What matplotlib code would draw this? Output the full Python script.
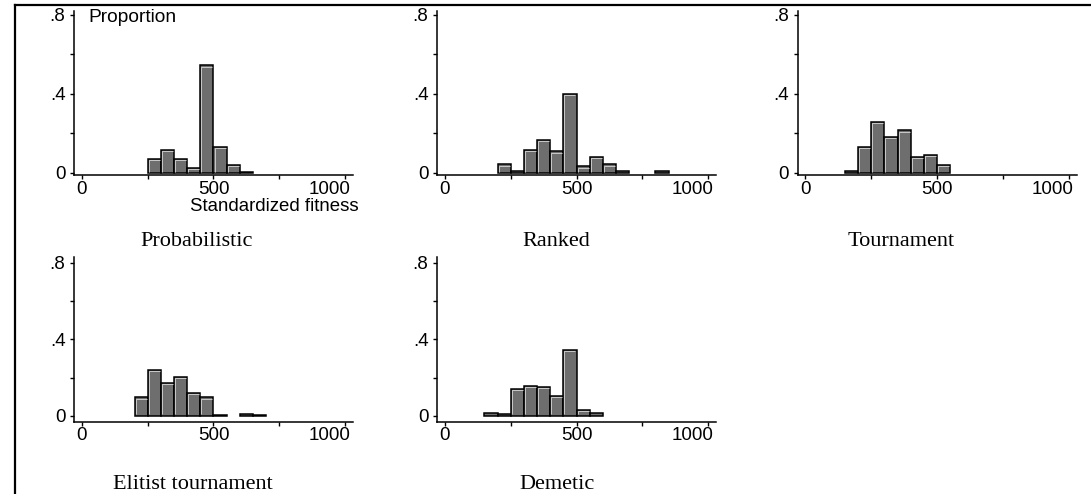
import matplotlib
matplotlib.use("Agg")
import matplotlib.pyplot as plt
import matplotlib.transforms as mtransforms
import numpy as np

# ---------------- data ----------------
bin_width = 50
titles = ["Probabilistic", "Ranked", "Tournament", "Elitist tournament", "Demetic"]
bin_starts = [250, 200, 150, 200, 150]
prob_heights = [0.073, 0.117, 0.073, 0.026, 0.545, 0.131, 0.041, 0.007]
ranked_heights = [0.043, 0.012, 0.117, 0.167, 0.109, 0.40, 0.034, 0.083, 0.043, 0.012, 0.0, 0.0, 0.012]
tourn_heights = [0.012, 0.133, 0.257, 0.181, 0.215, 0.083, 0.091, 0.041]
elitist_heights = [0.096, 0.24, 0.17, 0.205, 0.12, 0.096, 0.006, 0.0, 0.010, 0.006]
demetic_heights = [0.012, 0.007, 0.14, 0.157, 0.15, 0.105, 0.346, 0.031, 0.012]
heights_all = [prob_heights, ranked_heights, tourn_heights, elitist_heights, demetic_heights]

y_major = [0, 0.4, 0.8]
y_major_labels = ["0", ".4", ".8"]
y_minor = [0.2, 0.6]
x_major = [0, 500, 1000]
x_major_labels = ["0", "500", "1000"]
x_minor = [250, 750]

# ---------------- layout ----------------
W, H = 1091, 494
fig = plt.figure(figsize=(W / 100, H / 100), dpi=100)
SANS = "Liberation Sans"
SERIF = "Liberation Serif"

lefts_px = [74, 437, 797.5, 74, 437]
row_box = {0: (11, 175.5), 1: (257, 422)}   # (top px, bottom px)
row_ylim = {0: (-0.013, 0.82), 1: (-0.033, 0.831)}
rows = [0, 0, 0, 1, 1]
width_px = 279
title_pos = [(196.7, 246), (556.7, 246), (901.5, 246), (193.3, 489), (556.7, 489)]

fill_col = "#6e6e6e"

for i in range(5):
    top, bot = row_box[rows[i]]
    ax = fig.add_axes([lefts_px[i] / W, 1 - bot / H, width_px / W, (bot - top) / H])
    ax.set_xlim(-30, 1030)
    ax.set_ylim(*row_ylim[rows[i]])
    h = np.array(heights_all[i])
    lefts = bin_starts[i] + bin_width * np.arange(len(h))
    mask = h > 0
    ax.bar(lefts[mask], h[mask], width=bin_width, align="edge", color=fill_col,
           edgecolor="black", linewidth=1.1, zorder=2)
    # subtle light bevel highlight (top & left inner edges)
    dx = 4.3
    dy = 0.0065
    for l, hh in zip(lefts, h):
        if hh > 0.02:
            ax.plot([l + dx, l + dx, l + bin_width - dx], [dy, hh - dy, hh - dy],
                    color="#d8d8d8", lw=0.6, solid_capstyle="butt", zorder=3)
    for s in ["top", "right"]:
        ax.spines[s].set_visible(False)
    for s in ["left", "bottom"]:
        ax.spines[s].set_linewidth(1.1)
    ax.set_yticks(y_major)
    ax.set_yticklabels(y_major_labels)
    ax.set_yticks(y_minor, minor=True)
    ax.set_xticks(x_major)
    ax.set_xticklabels(x_major_labels)
    ax.set_xticks(x_minor, minor=True)
    ax.tick_params(axis="both", which="both", direction="out", length=3.2, width=1.0,
                   labelsize=13.5)
    ax.tick_params(axis="x", which="major", pad=0.5)
    ax.tick_params(axis="y", which="major", pad=3)
    for lab in ax.get_xticklabels() + ax.get_yticklabels():
        lab.set_fontfamily(SANS)
    # last x label pulled inside the axis end (right aligned)
    last = ax.get_xticklabels()[-1]
    last.set_horizontalalignment("right")
    last.set_transform(last.get_transform() +
                       mtransforms.ScaledTranslation(5 / 100, 0, fig.dpi_scale_trans))
    ax.patch.set_alpha(0)
    tx, ty = title_pos[i]
    fig.text(tx / W, 1 - ty / H, titles[i], ha="center", va="baseline",
             fontsize=16, family=SERIF)

fig.text(88 / W, 1 - 22 / H, "Proportion", ha="left", va="baseline",
         fontsize=13.8, family=SANS)
fig.text(359 / W, 1 - 211 / H, "Standardized fitness", ha="right", va="baseline",
         fontsize=13.4, family=SANS)

# outer frame lines (top and left)
fig.add_artist(plt.Line2D([15 / W, 1], [1 - 5 / H, 1 - 5 / H], color="black", lw=1.6,
                          transform=fig.transFigure))
fig.add_artist(plt.Line2D([15 / W, 15 / W], [1 - 5 / H, 0], color="black", lw=1.6,
                          transform=fig.transFigure))

fig.savefig("out.png", dpi=100)
